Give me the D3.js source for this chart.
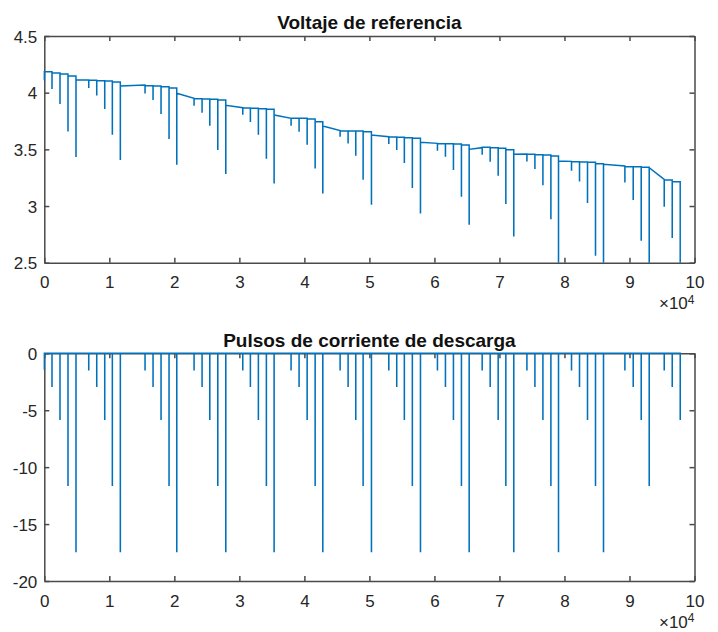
<!DOCTYPE html>
<html>
<head>
<meta charset="utf-8">
<script src="https://cdn.jsdelivr.net/npm/d3@7/dist/d3.min.js"></script>
<style>
  html, body { margin: 0; padding: 0; background: #ffffff; }
  svg { display: block; }
  text { font-family: "Liberation Sans", Arial, Helvetica, sans-serif; }
</style>
</head>
<body>
<svg id="chart" width="718" height="632"></svg>
<script>
// ---------------- DATA ----------------
const titles = ["Voltaje de referencia", "Pulsos de corriente de descarga"];
const xTicks = [0, 10000, 20000, 30000, 40000, 50000, 60000, 70000, 80000, 90000, 100000];
const xTickLabels = ["0", "1", "2", "3", "4", "5", "6", "7", "8", "9", "10"];
const xExponentLabel = "\u00d710";
const xExponent = "4";
const vTicks = [2.5, 3, 3.5, 4, 4.5];
const vTickLabels = ["2.5", "3", "3.5", "4", "4.5"];
const iTicks = [-20, -15, -10, -5, 0];
const iTickLabels = ["-20", "-15", "-10", "-5", "0"];

// pulse start times (s)
const pulseTime = [
  0, 1180, 2410, 3640, 4870,
  6830, 8060, 9290, 10460, 11690,
  15490, 16720, 17950, 19180, 20370,
  23030, 24260, 25450, 26680, 27910,
  30520, 31690, 32920, 34150, 35340,
  37950, 39180, 40420, 41650, 42830,
  45490, 46720, 47900, 49030, 50310,
  52980, 54200, 55370, 56600, 57850,
  60460, 61690, 62920, 64150, 65340,
  67340, 68570, 69800, 70980, 72200,
  74220, 75450, 76680, 77910, 79080,
  81080, 82310, 83540, 84770, 86000,
  89290, 90570, 91800, 93030,
  95340, 96570, 97800
];
const pulseDur = 10; // s

// discharge current during each pulse (A)
const pulseCurrent = [
  -1.45, -2.9, -5.8, -11.6, -17.4,
  -1.45, -2.9, -5.8, -11.6, -17.4,
  -1.45, -2.9, -5.8, -11.6, -17.4,
  -1.45, -2.9, -5.8, -11.6, -17.4,
  -1.45, -2.9, -5.8, -11.6, -17.4,
  -1.45, -2.9, -5.8, -11.6, -17.4,
  -1.45, -2.9, -5.8, -11.6, -17.4,
  -1.45, -2.9, -5.8, -11.6, -17.4,
  -1.45, -2.9, -5.8, -11.6, -17.4,
  -1.45, -2.9, -5.8, -11.6, -17.4,
  -1.45, -2.9, -5.8, -11.6, -17.4,
  -1.45, -2.9, -5.8, -11.6, -17.4,
  -1.45, -2.9, -5.8, -11.6,
  -1.45, -2.9, -5.8
];

// voltage just before each pulse (V)
const vBefore = [
  4.110, 4.185, 4.174, 4.165, 4.147,
  4.112, 4.109, 4.106, 4.103, 4.094,
  4.068, 4.062, 4.059, 4.053, 4.041,
  3.951, 3.947, 3.944, 3.941, 3.936,
  3.868, 3.865, 3.862, 3.859, 3.853,
  3.774, 3.774, 3.774, 3.768, 3.744,
  3.665, 3.662, 3.662, 3.662, 3.656,
  3.612, 3.609, 3.606, 3.603, 3.597,
  3.553, 3.550, 3.550, 3.547, 3.538,
  3.515, 3.518, 3.515, 3.509, 3.497,
  3.459, 3.456, 3.453, 3.450, 3.441,
  3.394, 3.391, 3.388, 3.386, 3.373,
  3.353, 3.347, 3.347, 3.341,
  3.235, 3.230, 3.215
];
// minimum voltage during each pulse (V)
const vMin = [
  4.110, 4.040, 3.906, 3.665, 3.440,
  4.047, 3.982, 3.862, 3.636, 3.412,
  4.000, 3.941, 3.818, 3.597, 3.371,
  3.891, 3.830, 3.715, 3.500, 3.289,
  3.812, 3.748, 3.636, 3.424, 3.206,
  3.715, 3.662, 3.547, 3.338, 3.118,
  3.618, 3.559, 3.450, 3.238, 3.018,
  3.553, 3.500, 3.386, 3.165, 2.941,
  3.494, 3.441, 3.324, 3.088, 2.841,
  3.459, 3.397, 3.274, 3.024, 2.738,
  3.400, 3.333, 3.191, 2.891, 2.420,
  3.318, 3.223, 3.033, 2.568, 2.350,
  3.215, 3.059, 2.700, 2.300,
  3.000, 2.724, 2.300
];
// voltage right after each pulse (V); null = end of record
const vAfter = [
  4.185, 4.174, 4.165, 4.147, 4.112,
  4.109, 4.106, 4.103, 4.094, 4.059,
  4.062, 4.059, 4.053, 4.041, 3.995,
  3.947, 3.944, 3.941, 3.936, 3.889,
  3.865, 3.862, 3.859, 3.853, 3.803,
  3.774, 3.774, 3.768, 3.744, 3.706,
  3.662, 3.662, 3.662, 3.656, 3.627,
  3.609, 3.606, 3.603, 3.597, 3.562,
  3.550, 3.550, 3.547, 3.538, 3.500,
  3.518, 3.515, 3.509, 3.497, 3.456,
  3.456, 3.453, 3.450, 3.441, 3.397,
  3.391, 3.388, 3.386, 3.373, 3.368,
  3.347, 3.347, 3.341, 3.338,
  3.230, 3.215, null
];

// ---------------- BUILD SERIES ----------------
const voltage = [];
const current = [];
pulseTime.forEach((t, i) => {
  voltage.push([t, vBefore[i]]);
  voltage.push([t, vMin[i]]);
  voltage.push([t + pulseDur, vMin[i]]);
  if (vAfter[i] !== null) voltage.push([t + pulseDur, vAfter[i]]);
  if (i > 0) current.push([t, 0]);
  current.push([t, pulseCurrent[i]]);
  current.push([t + pulseDur, pulseCurrent[i]]);
  current.push([t + pulseDur, 0]);
});

// ---------------- LAYOUT ----------------
const svg = d3.select("#chart");
const L = 44.3, R = 694.5;
const panels = [
  { top: 36, bottom: 262.7, domain: [2.5, 4.5], ticks: vTicks, labels: vTickLabels, data: voltage, title: titles[0], titleY: 29 },
  { top: 353.3, bottom: 581, domain: [-20, 0], ticks: iTicks, labels: iTickLabels, data: current, title: titles[1], titleY: 347 }
];

const axisColor = "#4a4a4a";
const textColor = "#262626";
const lineColor = "#0072BD";
const fontSize = 17;

const x = d3.scaleLinear().domain([0, 100000]).range([L, R]);

panels.forEach((p, k) => {
  const y = d3.scaleLinear().domain(p.domain).range([p.bottom, p.top]);
  const g = svg.append("g");

  // axes
  const ax = g.append("g").attr("transform", `translate(0,${p.bottom})`)
    .call(d3.axisBottom(x).tickValues(xTicks).tickSizeInner(-5).tickSizeOuter(0).tickPadding(13.5)
      .tickFormat((d, i) => xTickLabels[i]));
  const axTop = g.append("g").attr("transform", `translate(0,${p.top})`)
    .call(d3.axisTop(x).tickValues(xTicks).tickSizeInner(-5).tickSizeOuter(0).tickFormat(""));
  const ay = g.append("g").attr("transform", `translate(${L},0)`)
    .call(d3.axisLeft(y).tickValues(p.ticks).tickSizeInner(-5).tickSizeOuter(0).tickPadding(7)
      .tickFormat((d, i) => p.labels[i]));
  const ayR = g.append("g").attr("transform", `translate(${R},0)`)
    .call(d3.axisRight(y).tickValues(p.ticks).tickSizeInner(-5).tickSizeOuter(0).tickFormat(""));

  [ax, axTop, ay, ayR].forEach(a => {
    a.select(".domain").attr("stroke", axisColor).attr("stroke-width", 1.5);
    a.selectAll(".tick line").attr("stroke", axisColor).attr("stroke-width", 1.5);
    a.selectAll(".tick text").attr("fill", textColor).style("font-size", fontSize + "px")
      .attr("font-family", "Liberation Sans, Arial, sans-serif");
    a.attr("font-family", null).attr("font-size", null);
  });
  ay.selectAll(".tick text").attr("dy", "0.37em");

  // title
  g.append("text").attr("x", (L + R) / 2).attr("y", p.titleY)
    .attr("text-anchor", "middle").attr("font-weight", "bold")
    .style("font-size", "19px").attr("fill", "#111")
    .text(p.title);

  // exponent
  const ex = g.append("text").attr("x", R).attr("y", p.bottom + 46.5)
    .attr("text-anchor", "end").style("font-size", fontSize + "px").attr("fill", textColor);
  ex.append("tspan").text(xExponentLabel);
  ex.append("tspan").attr("dy", "-0.45em").style("font-size", "12px").text(xExponent);

  // clip
  const cid = "clip" + k;
  svg.append("defs").append("clipPath").attr("id", cid)
    .append("rect").attr("x", L - 2).attr("y", p.top - 2)
    .attr("width", R - L + 4).attr("height", p.bottom - p.top + 2);

  const line = d3.line().x(d => x(d[0])).y(d => y(d[1]));
  g.append("path").datum(p.data)
    .attr("clip-path", `url(#${cid})`)
    .attr("fill", "none").attr("stroke", lineColor).attr("stroke-width", 1.5)
    .attr("stroke-linejoin", "miter")
    .attr("d", line);
});
</script>
</body>
</html>
